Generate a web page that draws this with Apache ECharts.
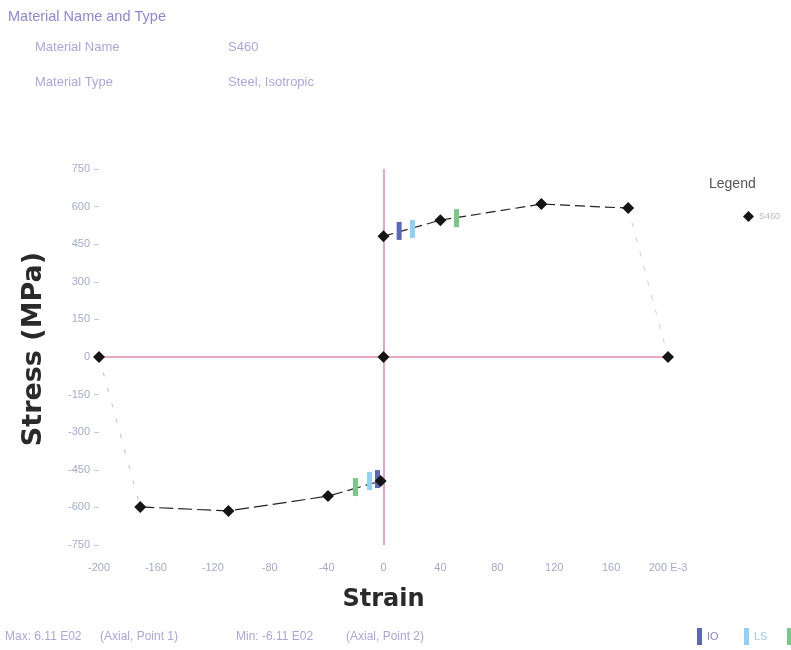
<!DOCTYPE html>
<html>
<head>
<meta charset="utf-8">
<script src="https://cdn.jsdelivr.net/npm/echarts@6/dist/echarts.min.js"></script>
<style>
  html, body { margin: 0; padding: 0; background: #ffffff; }
  #chart { width: 791px; height: 650px; }
</style>
</head>
<body>
<div id="chart"></div>
<script>
// Stress-strain backbone of the material (strain in E-3, stress in MPa)
const strainTension = [0, 40, 111, 172, 200];
const stressTension = [482, 546, 610, 594, 0];
const strainCompression = [-200, -171, -109, -39, -2];
const stressCompression = [0, -598, -614, -555, -495];
const originPoint = [[0, 0]];

// Acceptance criteria markers (IO, LS, CP)
const criteriaNames = ['IO', 'LS', 'CP'];
const criteriaColors = ['#5b67b8', '#8fd0f4', '#78c986'];
const criteriaTensionStrain = [11, 20.4, 51.3];
const criteriaTensionStress = [503, 511, 554];
const criteriaCompressionStrain = [-4.2, -9.8, -19.7];
const criteriaCompressionStress = [-487, -495, -519];

// Axis ticks
const xTicks = [-200, -160, -120, -80, -40, 0, 40, 80, 120, 160, 200];
const yTicks = [-750, -600, -450, -300, -150, 0, 150, 300, 450, 600, 750];

const labelColor = '#a3abcb';
const headerColor = '#8c88d2';
const headerLight = '#aaa7dc';
const smallFont = '"Liberation Sans", sans-serif';

function pairs(xs, ys, from, to) {
  const out = [];
  for (let i = from; i <= to; i++) out.push([xs[i], ys[i]]);
  return out;
}

const series = [
  // Plateau of the tension branch
  {
    type: 'line', data: pairs(strainTension, stressTension, 0, 3),
    symbol: 'none', lineStyle: { color: '#222222', width: 1.2, type: [10, 5] }, z: 3, silent: true
  },
  // Softening to zero in tension
  {
    type: 'line', data: pairs(strainTension, stressTension, 3, 4),
    symbol: 'none', lineStyle: { color: '#cfcfcf', width: 1, type: [5, 10] }, z: 2, silent: true
  },
  // Softening to zero in compression
  {
    type: 'line', data: pairs(strainCompression, stressCompression, 0, 1),
    symbol: 'none', lineStyle: { color: '#bdbdbd', width: 1, type: [4, 12] }, z: 2, silent: true
  },
  // Compression plateau
  {
    type: 'line', data: pairs(strainCompression, stressCompression, 1, 4),
    symbol: 'none', lineStyle: { color: '#222222', width: 1.2, type: [14, 5] }, z: 3, silent: true
  },
  // Backbone points
  {
    name: 'S460', type: 'scatter',
    data: pairs(strainTension, stressTension, 0, 4)
      .concat(pairs(strainCompression, stressCompression, 0, 4))
      .concat(originPoint),
    symbol: 'diamond', symbolSize: 12,
    itemStyle: { color: '#151515', opacity: 1 }, z: 6,
    markLine: {
      silent: true, symbol: 'none', label: { show: false },
      lineStyle: { type: 'solid', width: 1.6 },
      data: [
        { xAxis: 0, lineStyle: { color: '#d77bb8', opacity: 0.85 } },
        { yAxis: 0, lineStyle: { color: '#d9709a', opacity: 0.8 } }
      ]
    }
  }
];

criteriaNames.forEach(function (n, i) {
  series.push({
    type: 'scatter', name: n,
    data: [[criteriaTensionStrain[i], criteriaTensionStress[i]],
           [criteriaCompressionStrain[i], criteriaCompressionStress[i]]],
    symbol: 'rect', symbolSize: [5, 18],
    itemStyle: { color: criteriaColors[i], opacity: 1 }, z: 5
  });
});

const chart = echarts.init(document.getElementById('chart'), null, { renderer: 'canvas' });
chart.setOption({
  backgroundColor: '#ffffff',
  animation: false,
  grid: { left: 99, right: 123, top: 169, bottom: 105, containLabel: false },
  xAxis: {
    type: 'value', min: -200, max: 200, interval: 40,
    name: 'Strain', nameLocation: 'middle', nameGap: 43,
    nameTextStyle: { fontFamily: 'DejaVu Sans', fontWeight: 'bold', fontSize: 24, color: '#2a2a2a' },
    axisLine: { show: false, onZero: false }, axisTick: { show: false }, splitLine: { show: false },
    axisLabel: {
      margin: 17, fontSize: 11, color: labelColor, fontFamily: smallFont,
      formatter: function (v) { return v === xTicks[xTicks.length - 1] ? v + ' E-3' : String(v); }
    }
  },
  yAxis: {
    type: 'value', min: -750, max: 750, interval: 150,
    name: 'Stress (MPa)', nameLocation: 'middle', nameGap: 52, nameRotate: 90,
    nameTextStyle: { fontFamily: 'DejaVu Sans', fontWeight: 'bold', fontSize: 27, color: '#2a2a2a', padding: [0, 0, 0, 16] },
    axisLine: { show: false, onZero: false },
    axisTick: { show: true, inside: false, length: 5, lineStyle: { color: '#c4c8d8' } },
    splitLine: { show: false },
    axisLabel: { margin: 9, fontSize: 11, color: labelColor, fontFamily: smallFont }
  },
  legend: {
    data: [{ name: 'S460', icon: 'diamond' }],
    right: 6, top: 206, itemWidth: 11, itemHeight: 11,
    textStyle: { color: '#b8b8c4', fontSize: 9 }
  },
  series: series,
  graphic: [
    { type: 'text', left: 8, top: 9, style: { text: 'Material Name and Type', fill: headerColor, font: '14.5px ' + smallFont } },
    { type: 'text', left: 35, top: 41, style: { text: 'Material Name', fill: headerLight, font: '13px ' + smallFont } },
    { type: 'text', left: 228, top: 41, style: { text: 'S460', fill: headerLight, font: '13px ' + smallFont } },
    { type: 'text', left: 35, top: 76, style: { text: 'Material Type', fill: headerLight, font: '13px ' + smallFont } },
    { type: 'text', left: 228, top: 76, style: { text: 'Steel, Isotropic', fill: headerLight, font: '13px ' + smallFont } },
    { type: 'text', left: 709, top: 177, style: { text: 'Legend', fill: '#555555', font: '14px ' + smallFont } },
    { type: 'text', left: 5, top: 631, style: { text: 'Max: 6.11 E02', fill: headerLight, font: '12px ' + smallFont } },
    { type: 'text', left: 100, top: 631, style: { text: '(Axial, Point 1)', fill: headerLight, font: '12px ' + smallFont } },
    { type: 'text', left: 236, top: 631, style: { text: 'Min: -6.11 E02', fill: headerLight, font: '12px ' + smallFont } },
    { type: 'text', left: 346, top: 631, style: { text: '(Axial, Point 2)', fill: headerLight, font: '12px ' + smallFont } },
    { type: 'rect', left: 697, top: 628, shape: { width: 5, height: 17 }, style: { fill: criteriaColors[0] } },
    { type: 'text', left: 707, top: 631, style: { text: criteriaNames[0], fill: '#8a86c8', font: '11px ' + smallFont } },
    { type: 'rect', left: 744, top: 628, shape: { width: 5, height: 17 }, style: { fill: criteriaColors[1] } },
    { type: 'text', left: 754, top: 631, style: { text: criteriaNames[1], fill: '#9ccbe8', font: '11px ' + smallFont } },
    { type: 'rect', left: 787, top: 628, shape: { width: 5, height: 17 }, style: { fill: criteriaColors[2] } }
  ]
});
</script>
</body>
</html>
